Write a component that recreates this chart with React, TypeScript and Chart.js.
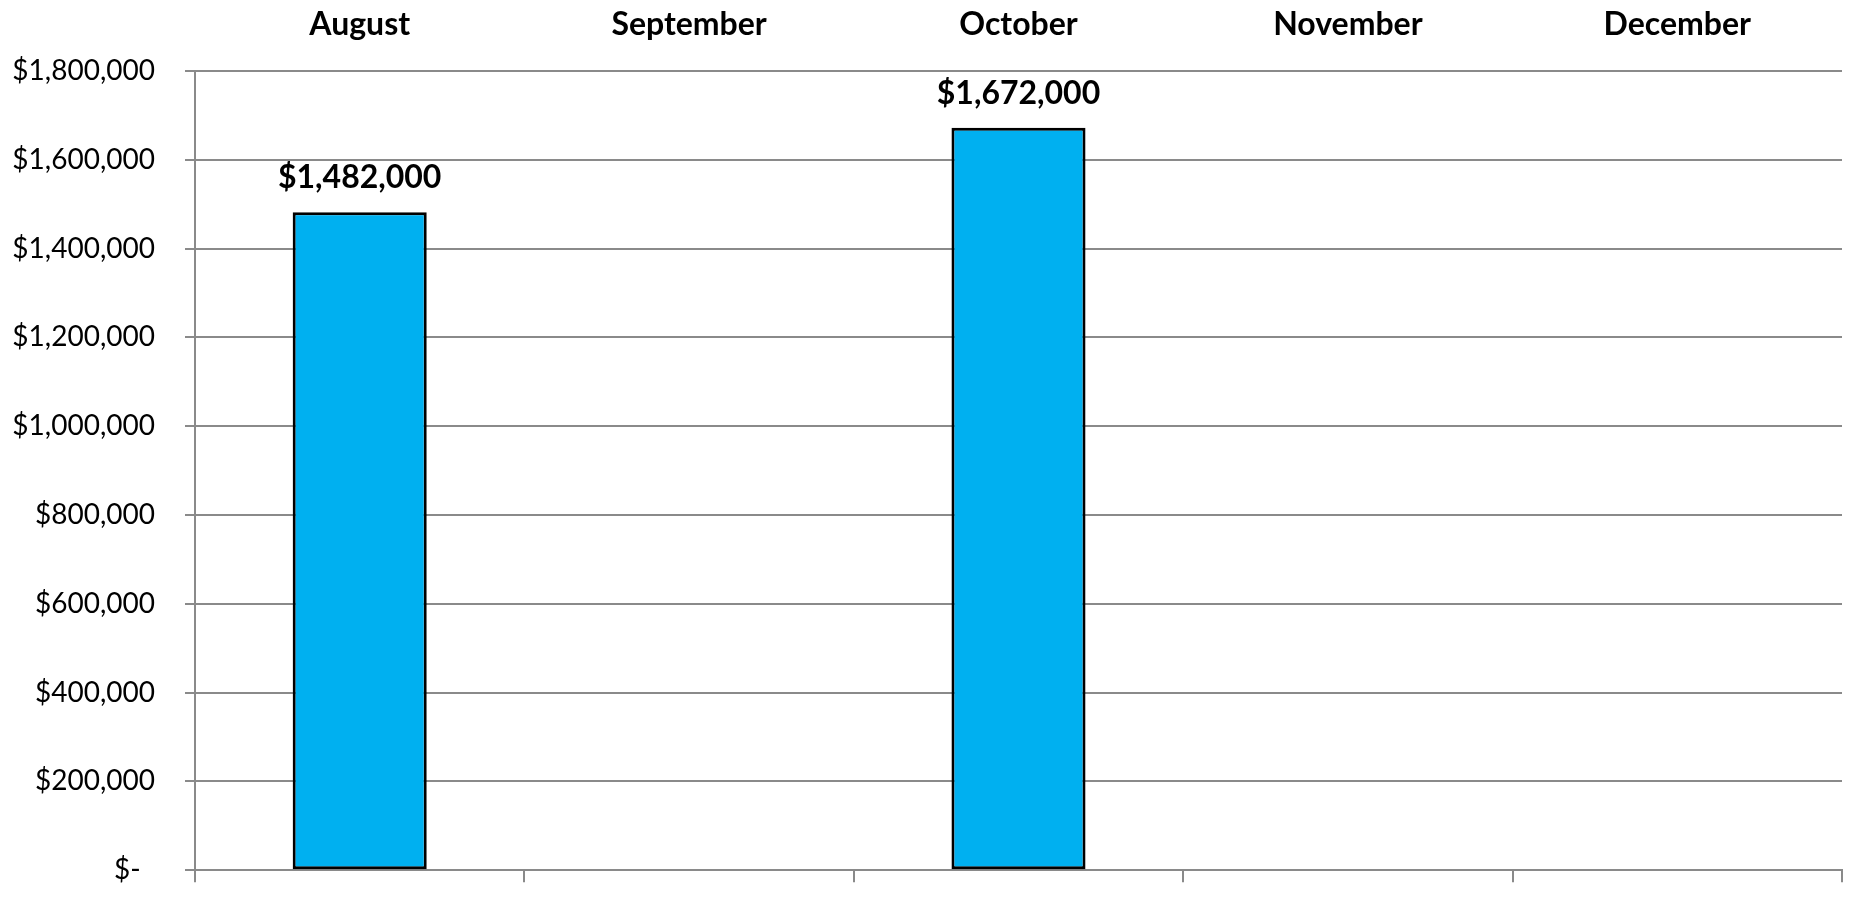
import React, { useEffect, useRef } from "react";
import { Chart, registerables } from "chart.js";

Chart.register(...registerables);

const months = ["August", "September", "October", "November", "December"];
const revenue: (number | null)[] = [1482000, null, 1672000, null, null];
const yTicks = [0, 200000, 400000, 600000, 800000, 1000000, 1200000, 1400000, 1600000, 1800000];

const fmt = (v: number) => (v === 0 ? "$-\u00a0\u00a0" : "$" + v.toLocaleString("en-US"));

const GRID = "#8a8a8a";

const labelPlugin = {
  id: "barLabels",
  afterDatasetsDraw(chart: any) {
    const ctx = chart.ctx;
    const meta = chart.getDatasetMeta(0);
    ctx.save();
    ctx.font = "bold 32px Lato";
    ctx.fillStyle = "#000";
    ctx.textAlign = "center";
    ctx.textBaseline = "alphabetic";
    meta.data.forEach((el: any, i: number) => {
      const v = revenue[i];
      if (v == null) return;
      ctx.fillText(fmt(v), el.x, el.y - 24);
    });
    ctx.restore();
  },
};

export default function App() {
  const ref = useRef<HTMLCanvasElement>(null);
  useEffect(() => {
    if (!ref.current) return;
    const chart = new Chart(ref.current, {
      type: "bar",
      data: {
        labels: months,
        datasets: [
          {
            data: revenue,
            backgroundColor: "#00B0F0",
            borderColor: "#000",
            borderWidth: 3,
            borderSkipped: false,
            barPercentage: 0.407,
            categoryPercentage: 1,
            xAxisID: "x",
            yAxisID: "y",
          },
        ],
      },
      options: {
        responsive: false,
        animation: false,
        layout: { padding: { left: 0, right: 10, top: 0, bottom: 0 } },
        plugins: { legend: { display: false }, tooltip: { enabled: false } },
        scales: {
          x: {
            type: "category",
            position: "top",
            grid: { display: false, drawTicks: false },
            border: { display: false },
            ticks: {
              padding: 27,
              color: "#000",
              font: { family: "Lato", size: 32, weight: "bold" },
              maxRotation: 0,
            },
            afterFit: (s: any) => {
              s.height = 71;
            },
          },
          x2: {
            type: "category",
            position: "bottom",
            labels: months,
            offset: true,
            grid: {
              offset: true,
              drawOnChartArea: false,
              drawTicks: true,
              tickLength: 12,
              color: GRID,
              lineWidth: 2,
            },
            border: { display: true, color: GRID, width: 2 },
            ticks: { display: false },
            afterFit: (s: any) => {
              s.height = 14;
            },
          },
          y: {
            min: 0,
            max: 1800000,
            afterBuildTicks: (s: any) => {
              s.ticks = yTicks.map((v) => ({ value: v }));
            },
            grid: { color: GRID, lineWidth: 2, tickLength: 10, drawTicks: true },
            border: { display: true, color: GRID, width: 2 },
            ticks: {
              padding: 30,
              color: "#000",
              font: { family: "Lato", size: 28 },
              callback: (v: any) => fmt(Number(v)),
            },
            afterFit: (s: any) => {
              s.width = 195;
            },
          },
        },
      },
      plugins: [labelPlugin],
    });
    return () => chart.destroy();
  }, []);
  return (
    <div style={{ position: "fixed", left: 0, top: 0, width: 1852, height: 917, background: "#fff" }}>
      <canvas ref={ref} width={1852} height={917} style={{ width: 1852, height: 917, display: "block" }} />
    </div>
  );
}
